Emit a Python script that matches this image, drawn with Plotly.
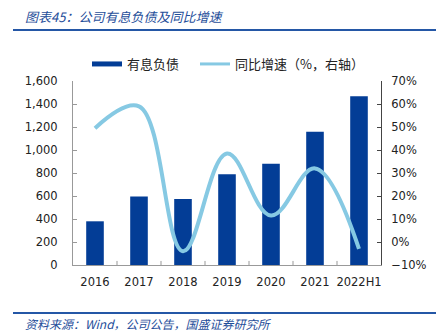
import plotly.graph_objects as go

categories = ["2016", "2017", "2018", "2019", "2020", "2021", "2022H1"]
debt = [380, 595, 574, 790, 880, 1158, 1468]
growth = [49.5, 59, -4, 38.5, 11.5, 32, -3]

BAR = "#033D96"
LINE = "#86C9E3"
BLUE_TXT = "#1F4E9A"
FONT = "DejaVu Sans"

fig = go.Figure()
fig.add_trace(go.Bar(x=categories, y=debt, name="有息负债", marker=dict(color=BAR, line=dict(width=0)),
                     width=0.4, yaxis="y", showlegend=False, legendgroup="a"))
fig.add_trace(go.Scatter(x=categories, y=growth, name="同比增速（%，右轴）", mode="lines",
                         line=dict(color=LINE, width=4, shape="spline", smoothing=1.1), yaxis="y2",
                         showlegend=False, legendgroup="b"))
# legend-only swatches
fig.add_trace(go.Scatter(x=[categories[0]], y=[None], name="有息负债", mode="lines",
                         line=dict(color=BAR, width=5), legendgroup="a", showlegend=True, legend="legend"))
fig.add_trace(go.Scatter(x=[categories[0]], y=[None], name="同比增速（%，右轴）", mode="lines",
                         line=dict(color=LINE, width=3), legendgroup="b", showlegend=True, yaxis="y2",
                         legend="legend2"))

W, H = 442, 332
L, R, T, B = 73, 381, 81, 265


def px(x):
    return (x - L) / (R - L)


def py(y):
    return (B - y) / (B - T)


leg_common = dict(orientation="h", xanchor="left", yanchor="top",
                  font=dict(family="Noto Sans CJK SC", size=13, color="#222"),
                  itemwidth=30, tracegroupgap=0, bgcolor="rgba(0,0,0,0)")

fig.update_layout(
    width=W, height=H,
    margin=dict(l=L, r=W - R, t=T, b=H - B),
    paper_bgcolor="white", plot_bgcolor="white",
    font=dict(family=FONT, size=11, color="#222"),
    bargap=0.6,
    showlegend=True,
    legend=dict(x=px(87), y=py(49), **leg_common),
    legend2=dict(x=px(195), y=py(49), **leg_common),
    xaxis=dict(type="category", showline=True, linecolor="#999", linewidth=1,
               ticks="", showgrid=False, tickfont=dict(size=11.5, color="#222"), ticklabelstandoff=6),
    yaxis=dict(range=[0, 1600], dtick=200, tickformat=",d", showline=True, linecolor="#999", linewidth=1,
               ticks="inside", ticklen=4, tickcolor="#999", showgrid=False, zeroline=False,
               tickfont=dict(size=11.5, color="#222"), ticklabelstandoff=12),
    yaxis2=dict(range=[-10, 70], dtick=10, ticksuffix="%", overlaying="y", side="right",
                showline=True, linecolor="#444", linewidth=1, ticks="inside", ticklen=4, tickcolor="#444",
                showgrid=False, zeroline=False, tickfont=dict(size=11.5, color="#222"), ticklabelstandoff=7),
)

# x-axis tick marks between categories (inside)
for i in range(1, len(categories)):
    fig.add_shape(type="line", xref="x", yref="paper", x0=i - 0.5, x1=i - 0.5, y0=0, y1=0.022,
                  line=dict(color="#999", width=1))

# title and source decorations
fig.add_shape(type="line", xref="paper", yref="paper", x0=px(13), x1=px(436), y0=py(30), y1=py(30),
              line=dict(color="#2457A6", width=2))
fig.add_shape(type="line", xref="paper", yref="paper", x0=px(13), x1=px(436), y0=py(313), y1=py(313),
              line=dict(color="#2457A6", width=2))
fig.add_annotation(xref="paper", yref="paper", x=px(23), y=py(16), xanchor="left", yanchor="middle",
                   text="<i>图表45：公司有息负债及同比增速</i>", showarrow=False,
                   font=dict(family="Noto Sans CJK SC", size=13, color=BLUE_TXT))
fig.add_annotation(xref="paper", yref="paper", x=px(23), y=py(323), xanchor="left", yanchor="middle",
                   text="<i>资料来源：Wind，公司公告，国盛证券研究所</i>", showarrow=False,
                   font=dict(family="Noto Sans CJK SC", size=12, color=BLUE_TXT))

fig.write_html("out.html")
